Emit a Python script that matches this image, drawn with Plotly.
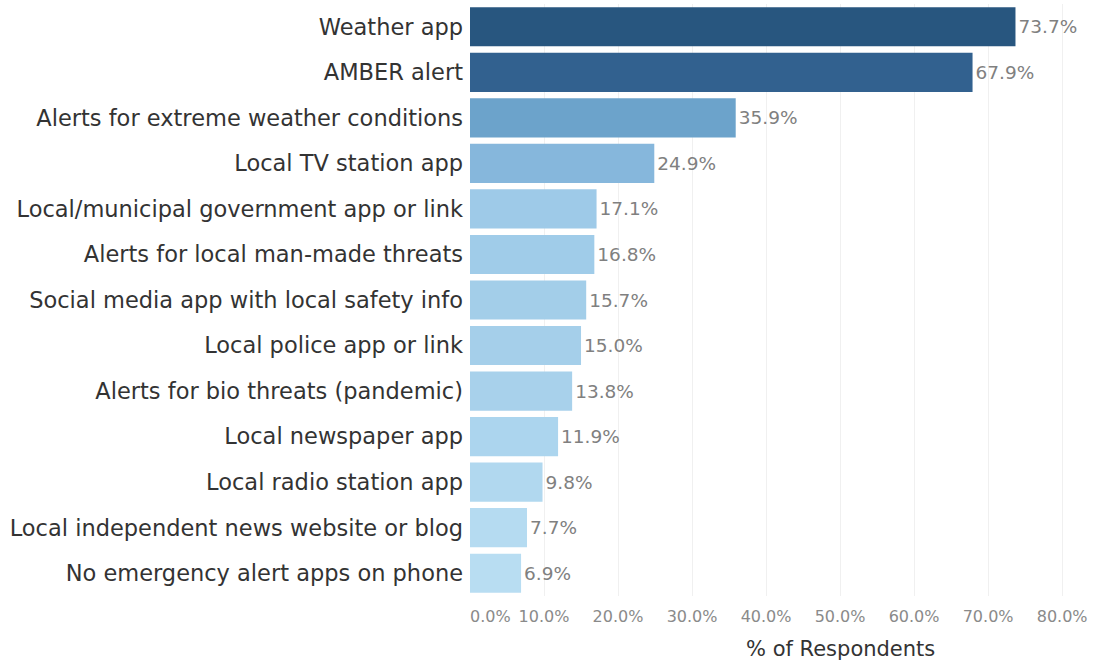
import plotly.graph_objects as go

categories = [
    "Weather app",
    "AMBER alert",
    "Alerts for extreme weather conditions",
    "Local TV station app",
    "Local/municipal government app or link",
    "Alerts for local man-made threats",
    "Social media app with local safety info",
    "Local police app or link",
    "Alerts for bio threats (pandemic)",
    "Local newspaper app",
    "Local radio station app",
    "Local independent news website or blog",
    "No emergency alert apps on phone",
]
values = [73.7, 67.9, 35.9, 24.9, 17.1, 16.8, 15.7, 15.0, 13.8, 11.9, 9.8, 7.7, 6.9]
bar_colors = [
    "#28567f", "#32618f", "#6ca3cb", "#86b7dc", "#9ecae8", "#a0cce9", "#a3cee9",
    "#a5cfea", "#a8d1eb", "#acd5ee", "#b1d8ef", "#b5dbf1", "#b8ddf2",
]
tick_vals = [0, 10, 20, 30, 40, 50, 60, 70, 80]
tick_text = [f"{v:.1f}%" for v in tick_vals]
# first label sits inside the plot edge rather than centred on 0
tick_text[0] = "\u00a0" * 8 + tick_text[0]

FONT = "DejaVu Sans"

fig = go.Figure(
    go.Bar(
        x=values,
        y=categories,
        orientation="h",
        marker=dict(color=bar_colors, line=dict(width=0)),
        width=0.86,
        text=[f"{v:.1f}%" for v in values],
        textposition="outside",
        cliponaxis=False,
        textfont=dict(family=FONT, size=18.5, color="#808080"),
    )
)

fig.update_layout(
    width=1110,
    height=661,
    margin=dict(l=470, r=2, t=4, b=65),
    plot_bgcolor="white",
    paper_bgcolor="white",
    showlegend=False,
    xaxis=dict(
        range=[0, 86.2],
        tickvals=tick_vals,
        ticktext=tick_text,
        tickfont=dict(family=FONT, size=16, color="#8a8a8a"),
        showgrid=True,
        gridcolor="#f0f0f0",
        gridwidth=1,
        zeroline=False,
        showline=False,
        ticks="",
        ticklabelstandoff=9,
        fixedrange=True,
    ),
    yaxis=dict(
        categoryorder="array",
        categoryarray=categories[::-1],
        tickfont=dict(family=FONT, size=22.5, color="#333333"),
        ticks="",
        ticklabelstandoff=6,
        showgrid=False,
        zeroline=False,
        showline=False,
        fixedrange=True,
    ),
    annotations=[
        dict(
            text="% of Respondents",
            x=50,
            xref="x",
            y=-0.0895,
            yref="paper",
            xanchor="center",
            yanchor="middle",
            showarrow=False,
            font=dict(family=FONT, size=21, color="#333333"),
        )
    ],
)

fig.write_html("out.html")
